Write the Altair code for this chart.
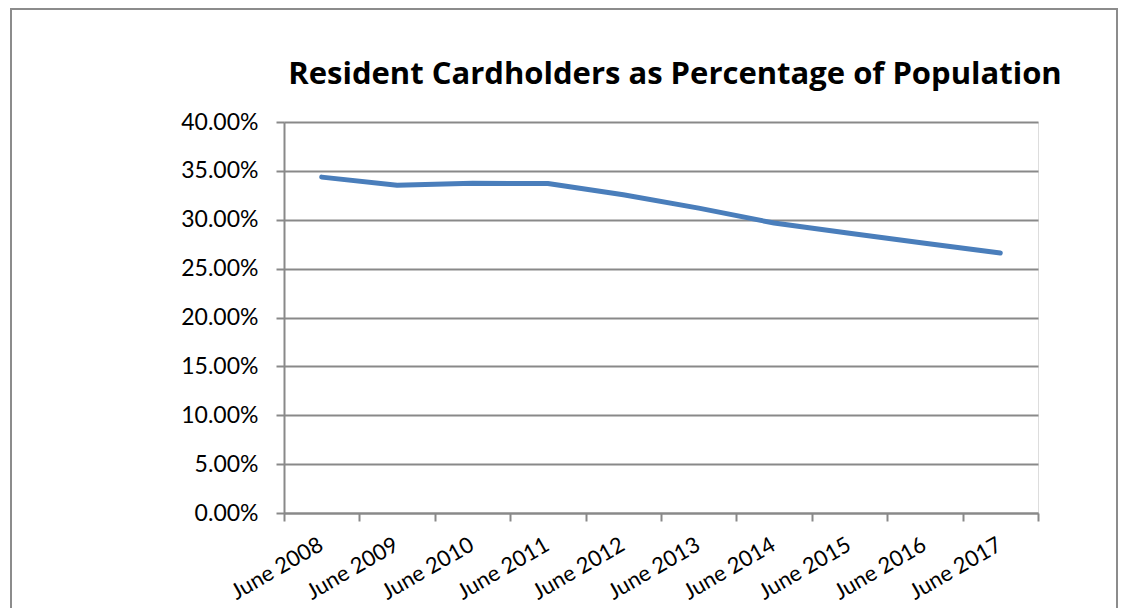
import altair as alt
import pandas as pd

years = ["June 2008", "June 2009", "June 2010", "June 2011", "June 2012",
         "June 2013", "June 2014", "June 2015", "June 2016", "June 2017"]
pct = [0.3436, 0.3354, 0.3374, 0.3370, 0.3255, 0.3119, 0.2966, 0.2861, 0.2760, 0.2660]
y_ticks = [0, 0.05, 0.10, 0.15, 0.20, 0.25, 0.30, 0.35, 0.40]
title_text = "Resident Cardholders as Percentage of Population"

df = pd.DataFrame({"year": years, "pct": pct})

W, H = 754, 391
PL, PT = 276, 114
TOTAL_W, TOTAL_H = 1110, 600

FONT = "Lato"
GRID = "#898989"

base = alt.Chart(df)

line = base.mark_line(color="#4A7EBB", strokeWidth=5, strokeCap="round", strokeJoin="round").encode(
    x=alt.X("year:N", sort=years,
            scale=alt.Scale(type="band", paddingInner=0, paddingOuter=0),
            axis=alt.Axis(title=None, labelAngle=-30, labelAlign="right", labelBaseline="top",
                          labelFont=FONT, labelFontSize=22, labelColor="#000000",
                          labelPadding=13, labelOffset=-6, tickBand="extent", tickSize=8,
                          tickColor=GRID, tickWidth=2, domainColor=GRID, domainWidth=2,
                          grid=False, labelOverlap=False)),
    y=alt.Y("pct:Q", scale=alt.Scale(domain=[0, 0.4], nice=False),
            axis=alt.Axis(title=None, values=y_ticks, format=".2%",
                          labelFont=FONT, labelFontSize=23, labelColor="#000000",
                          labelPadding=18, tickSize=8, tickColor=GRID, tickWidth=2,
                          domainColor=GRID, domainWidth=2, gridColor=GRID, gridWidth=2,
                          grid=True)),
)

one = pd.DataFrame({"t": [title_text]})

border = alt.Chart(one).mark_rect(
    fill=None, stroke="#8c8c8c", strokeWidth=2
).encode(
    x=alt.value(-(PL - 3)), x2=alt.value(TOTAL_W - PL - 1),
    y=alt.value(-(PT - 1)), y2=alt.value(TOTAL_H - PT + 20),
)

title = alt.Chart(one).mark_text(
    font="Open Sans", fontSize=31, fontWeight="bold", color="#000000",
    align="center", baseline="alphabetic"
).encode(text="t:N", x=alt.value(391), y=alt.value(-38))

chart = alt.layer(border, line, title).properties(
    width=W, height=H,
    autosize=alt.AutoSizeParams(type="none"),
    padding={"left": PL, "top": PT, "right": TOTAL_W - PL - W, "bottom": TOTAL_H - PT - H},
).configure_view(stroke=None).configure(background="white")

chart.save("out.html", embed_options={"renderer": "svg", "actions": False})
